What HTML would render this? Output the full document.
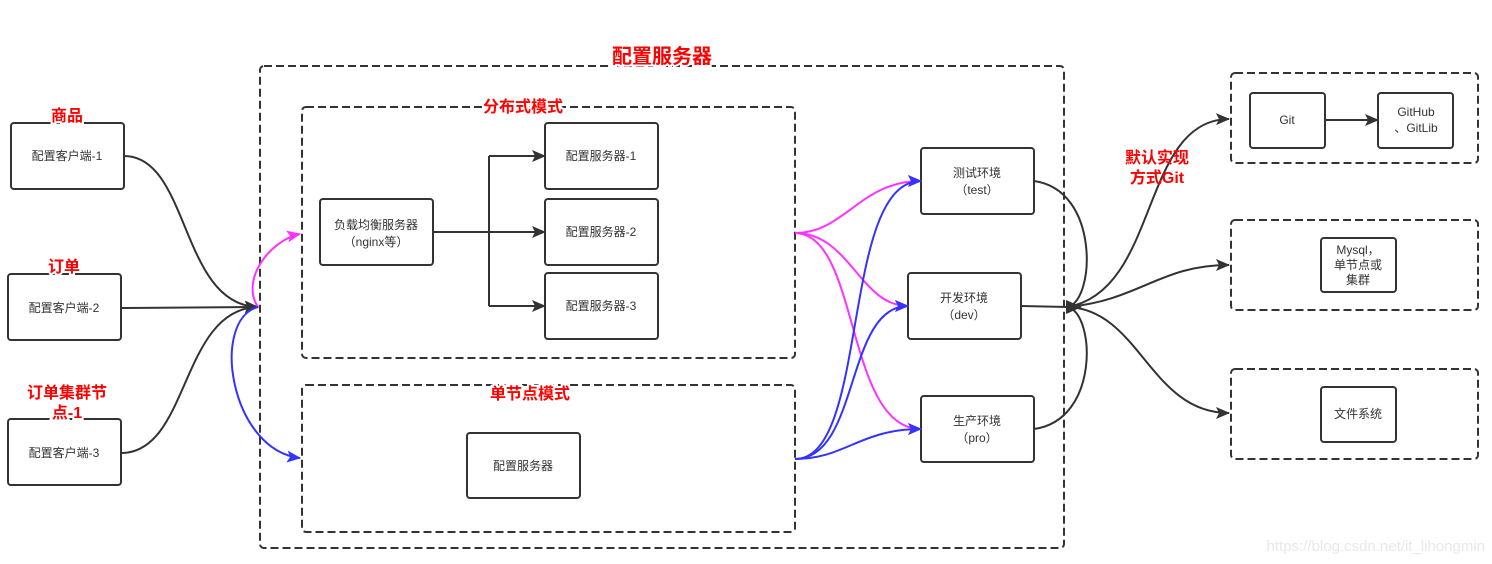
<!DOCTYPE html>
<html><head><meta charset="utf-8"><style>
html,body{margin:0;padding:0;background:#fff;}
svg{display:block;}
text{font-family:"Liberation Sans","Noto Sans CJK SC",sans-serif;}
.n{font-size:12px;fill:#333;text-anchor:middle;}
.r{font-size:16px;font-weight:bold;fill:#ff0000;text-anchor:middle;}
</style></head><body>
<svg width="1492" height="564" viewBox="0 0 1492 564" xmlns="http://www.w3.org/2000/svg">
<defs>
<marker id="am" markerWidth="14" markerHeight="12" refX="13" refY="6" orient="auto" markerUnits="userSpaceOnUse"><path d="M0,0 L14,6 L0,12 L3,6z" fill="#ff33ff"/></marker>
<marker id="ab" markerWidth="14" markerHeight="12" refX="13" refY="6" orient="auto" markerUnits="userSpaceOnUse"><path d="M0,0 L14,6 L0,12 L3,6z" fill="#3333ff"/></marker>
<marker id="ad" markerWidth="14" markerHeight="12" refX="13" refY="6" orient="auto" markerUnits="userSpaceOnUse"><path d="M0,0 L14,6 L0,12 L3,6z" fill="#333"/></marker>
</defs>
<g fill="none" stroke="#333" stroke-width="2" stroke-dasharray="8,4">
<rect x="260" y="66" width="804" height="482" rx="4"/>
<rect x="302" y="107" width="493" height="251" rx="4"/>
<rect x="302" y="385" width="493" height="147" rx="4"/>
<rect x="1231" y="73" width="247" height="90" rx="4"/>
<rect x="1231" y="220" width="247" height="90" rx="4"/>
<rect x="1231" y="369" width="247" height="90" rx="4"/>
</g>
<g fill="#fff" stroke="#333" stroke-width="2">
<rect x="11" y="123" width="113" height="66" rx="3"/>
<rect x="8" y="274" width="113" height="66" rx="3"/>
<rect x="8" y="419" width="113" height="66" rx="3"/>
<rect x="320" y="199" width="113" height="66" rx="3"/>
<rect x="545" y="123" width="113" height="66" rx="3"/>
<rect x="545" y="199" width="113" height="66" rx="3"/>
<rect x="545" y="273" width="113" height="66" rx="3"/>
<rect x="467" y="433" width="113" height="65" rx="3"/>
<rect x="921" y="148" width="113" height="66" rx="3"/>
<rect x="908" y="273" width="113" height="66" rx="3"/>
<rect x="921" y="396" width="113" height="66" rx="3"/>
<rect x="1250" y="93" width="75" height="55" rx="3"/>
<rect x="1378" y="93" width="75" height="55" rx="3"/>
<rect x="1321" y="238" width="75" height="54" rx="3"/>
<rect x="1321" y="387" width="75" height="55" rx="3"/>
</g>
<g fill="none" stroke="#333" stroke-width="2">
<path d="M124,156 C190,156 180,305 258,307" marker-end="url(#ad)"/>
<path d="M121,308 L258,307" marker-end="url(#ad)"/>
<path d="M121,453 C190,453 180,309 258,307" marker-end="url(#ad)"/>
<path d="M433,232 L489,232 M489,156 L489,306"/>
<path d="M489,156 L545,156" marker-end="url(#ad)"/>
<path d="M489,232 L545,232" marker-end="url(#ad)"/>
<path d="M489,306 L545,306" marker-end="url(#ad)"/>
<path d="M1325,120 L1378,120" marker-end="url(#ad)"/>
<path d="M1034,181 C1100,190 1095,300 1068,307"/>
<path d="M1021,306 L1068,307"/>
<path d="M1034,429 C1100,420 1095,314 1068,307"/>
<path d="M1082,307 L1066,300 L1066,314z" fill="#333" stroke="none"/>
<path d="M1068,307 C1160,290 1140,120 1229,119" marker-end="url(#ad)"/>
<path d="M1068,307 C1140,300 1160,265 1229,265" marker-end="url(#ad)"/>
<path d="M1068,307 C1140,310 1150,413 1229,413" marker-end="url(#ad)"/>
</g>
<g fill="none" stroke="#ff33ff" stroke-width="2">
<path d="M258,307 C240,280 270,240 300,234" marker-end="url(#am)"/>
<path d="M795,233 C845,233 860,181 921,181" marker-end="url(#am)"/>
<path d="M795,233 C850,233 860,306 908,306" marker-end="url(#am)"/>
<path d="M795,233 C860,233 845,429 921,429" marker-end="url(#am)"/>
</g>
<g fill="none" stroke="#3333ff" stroke-width="2">
<path d="M258,307 C210,320 230,450 300,458" marker-end="url(#ab)"/>
<path d="M795,459 C870,459 840,181 921,181" marker-end="url(#ab)"/>
<path d="M795,459 C860,459 845,306 908,306" marker-end="url(#ab)"/>
<path d="M795,459 C845,459 860,429 921,429" marker-end="url(#ab)"/>
</g>
<g class="n">
<text x="67" y="160">配置客户端-1</text>
<text x="64" y="312">配置客户端-2</text>
<text x="64" y="457">配置客户端-3</text>
<text x="376" y="229">负载均衡服务器</text>
<text x="376" y="246">（nginx等）</text>
<text x="601" y="160">配置服务器-1</text>
<text x="601" y="236">配置服务器-2</text>
<text x="601" y="310">配置服务器-3</text>
<text x="523" y="470">配置服务器</text>
<text x="977" y="177">测试环境</text>
<text x="977" y="194">（test）</text>
<text x="964" y="302">开发环境</text>
<text x="964" y="319">（dev）</text>
<text x="977" y="425">生产环境</text>
<text x="977" y="442">（pro）</text>
<text x="1287" y="124">Git</text>
<text x="1416" y="116">GitHub</text>
<text x="1416" y="132">、GitLib</text>
<text x="1358" y="254">Mysql，</text>
<text x="1358" y="269">单节点或</text>
<text x="1358" y="284">集群</text>
<text x="1358" y="418">文件系统</text>
</g>
<g stroke="#fff" stroke-width="4" paint-order="stroke">
<text class="r" x="662" y="63" style="font-size:20px">配置服务器</text>
<text class="r" x="523" y="112">分布式模式</text>
<text class="r" x="530" y="399">单节点模式</text>
<text class="r" x="67" y="121">商品</text>
<text class="r" x="64" y="272">订单</text>
<text class="r" x="67" y="398">订单集群节</text>
<text class="r" x="67" y="418">点-1</text>
</g>
<text class="r" x="1157" y="163">默认实现</text>
<text class="r" x="1157" y="183">方式Git</text>
<text x="1485" y="551" style="font-size:15px;fill:#e8e8e8;text-anchor:end">https://blog.csdn.net/it_lihongmin</text>
</svg>
</body></html>
